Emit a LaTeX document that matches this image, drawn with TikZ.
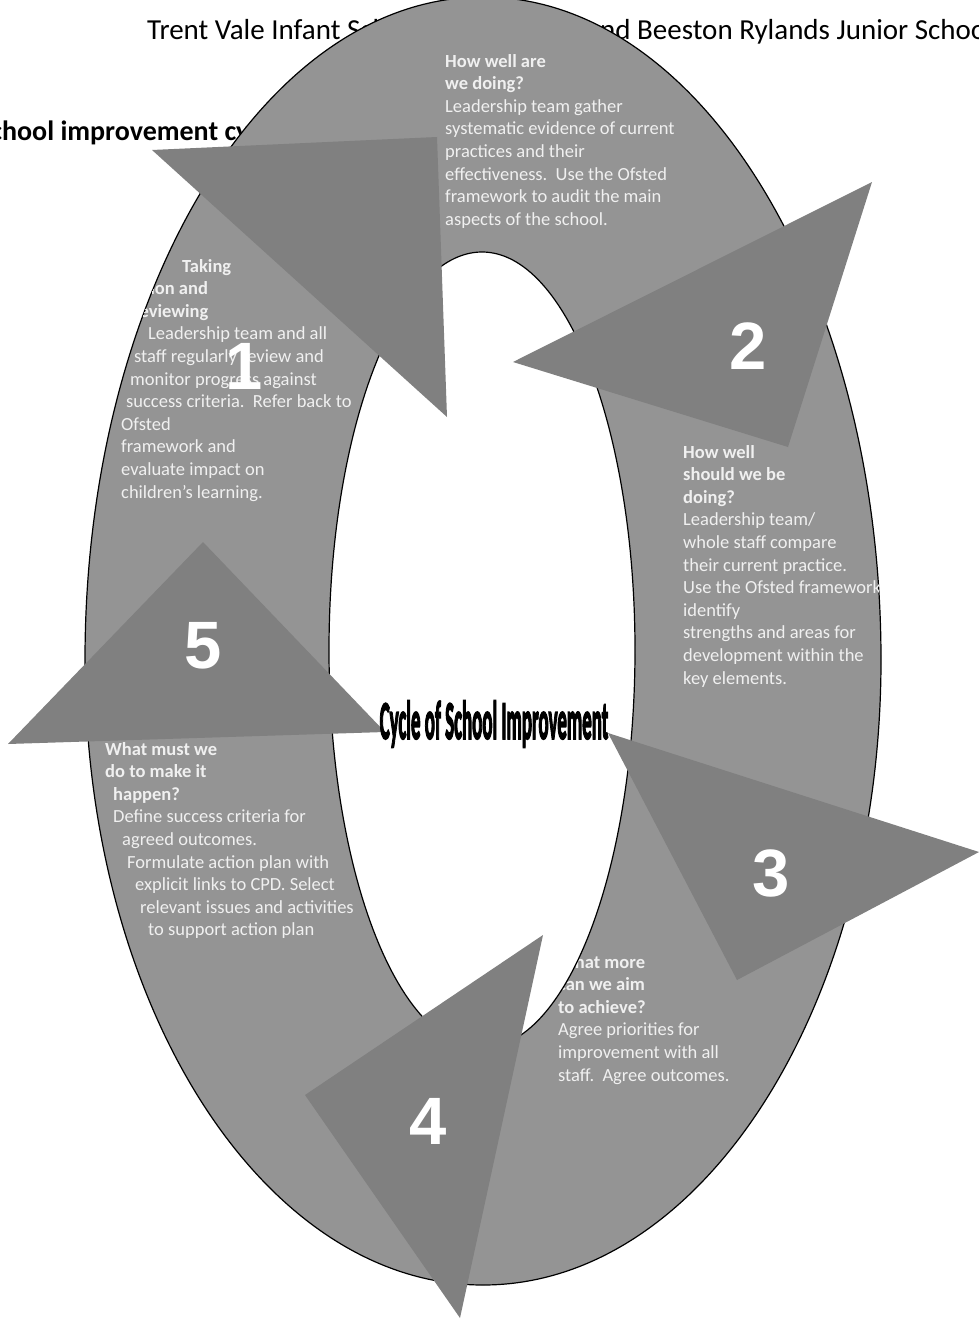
\documentclass[tikz,border=0pt]{standalone}
\usepackage{fontspec}
\setmainfont{Carlito}
\newfontfamily\numfont{Liberation Sans}
\newfontfamily\blobfont[FakeBold=4]{Carlito Bold}
\usetikzlibrary{positioning}
\definecolor{ringgray}{RGB}{148,148,148}
\definecolor{arrowgray}{RGB}{128,128,128}
\definecolor{paletext}{RGB}{240,240,240}

\begin{document}
\begin{tikzpicture}[x=1pt,y=-1pt]
\useasboundingbox (0,0) rectangle (979,1319);
\tikzset{ringtext/.style={text=paletext,align=left,anchor=north west,inner sep=0pt,font=\fontsize{18.5}{22.6}\selectfont}}
\tikzset{stagenum/.style={text=white,inner sep=0pt,font=\numfont\bfseries\fontsize{67}{67}\selectfont}}
\tikzset{turn/.style={fill=arrowgray}}
\tikzset{heading/.style={anchor=base west,inner sep=0pt,font=\fontsize{29}{34}\selectfont}}

\node[heading]          (trent)   at (147,40)  {Trent Vale Infant School};
\node[heading]          (beeston) at (586,40)  {and Beeston Rylands Junior School};
\node[heading,font=\bfseries\fontsize{28}{34}\selectfont] (cycle) at (-23,140) {School improvement cycle};

\filldraw[fill=ringgray,draw=black,line width=1.2pt] (85,660) arc[start angle=180,end angle=360,x radius=398,y radius=663] arc[start angle=0,end angle=180,x radius=398,y radius=625] -- cycle;

\begin{scope}
\clip (85,660) arc[start angle=180,end angle=360,x radius=398,y radius=663] arc[start angle=0,end angle=180,x radius=398,y radius=625] -- cycle;
\node[ringtext] (doing)   at (445,54)  {\textbf{How well are}\\\textbf{we doing?}\\Leadership team gather\\systematic evidence of current\\practices and their\\effectiveness.\ \ Use the Ofsted\\framework to audit the main\\aspects of the school.};
\node[ringtext] (should)  at (683,445) {\textbf{How well}\\\textbf{should we be}\\\textbf{doing?}\\Leadership team/\\whole staff compare\\their current practice.\\Use the Ofsted framework\\identify\\strengths and areas for\\development within the\\key elements.};
\node[ringtext] (action)  at (121,259) {\hspace*{61pt}\textbf{Taking}\\\hspace*{6pt}\textbf{action and}\\\hspace*{12pt}\textbf{reviewing}\\\hspace*{27pt}Leadership team and all\\\hspace*{13pt}staff regularly review and\\\hspace*{9pt}monitor progress against\\\hspace*{5pt}success criteria.\ \ Refer back to\\Ofsted\\framework and\\evaluate impact on\\children's learning.};
\node[ringtext] (happen)  at (105,742) {\textbf{What must we}\\\textbf{do to make it}\\\hspace*{8pt}\textbf{happen?}\\\hspace*{8pt}Define success criteria for\\\hspace*{17pt}agreed outcomes.\\\hspace*{22pt}Formulate action plan with\\\hspace*{30pt}explicit links to CPD. Select\\\hspace*{35pt}relevant issues and activities\\\hspace*{43pt}to support action plan};
\node[ringtext] (achieve) at (558,955) {\textbf{What more}\\\textbf{can we aim}\\\textbf{to achieve?}\\Agree priorities for\\improvement with all\\staff.\ \ Agree outcomes.};
\end{scope}

\filldraw[fill=white,draw=black,line width=1.2pt] (482,650) ellipse [x radius=153,y radius=398];

\fill[turn] (152,150) -- (437,137) -- (447,417) -- cycle;
\fill[turn] (872,182) -- (513,362) -- (788,447) -- cycle;
\fill[turn] (608,733) -- (979,852) -- (737,980) -- cycle;
\fill[turn] (543,935) -- (305,1095) -- (460,1318) -- cycle;
\fill[turn] (203,542) -- (8,744) -- (385,732) -- cycle;

\node[stagenum] (one)   at (244,366)  {1};
\node[stagenum] (two)   at (748,346)  {2};
\node[stagenum] (three) at (771,873)  {3};
\node[stagenum] (four)  at (428,1121) {4};
\node[stagenum] (five)  at (203,646)  {5};

\node[inner sep=0pt,font=\blobfont\fontsize{54}{54}\selectfont] (centre) at (494,724) {\scalebox{0.35}[1]{Cycle of School Improvement}};
\end{tikzpicture}
\end{document}
